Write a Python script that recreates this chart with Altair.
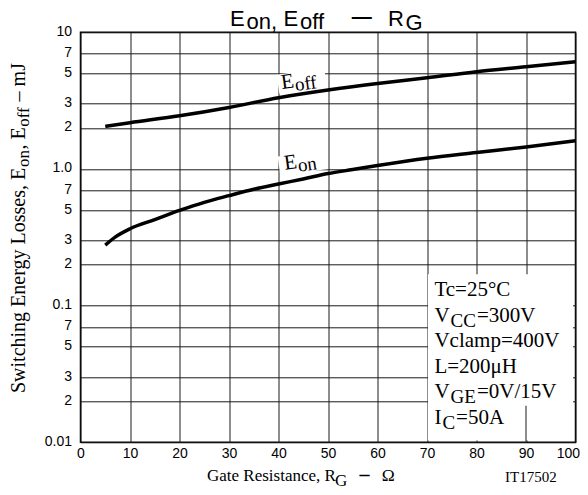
import json
import altair as alt
import pandas as pd

# ---------------- data ----------------
rg_eoff = [5, 10, 20, 30, 40, 50, 60, 70, 80, 90, 100]
eoff_mj = [2.05, 2.18, 2.45, 2.82, 3.32, 3.78, 4.22, 4.65, 5.15, 5.6, 6.1]

rg_eon = [5, 7, 10, 15, 20, 25, 30, 35, 40, 45, 50, 55, 60, 70, 80, 90, 100]
eon_mj = [0.277, 0.317, 0.365, 0.426, 0.497, 0.57, 0.638, 0.71, 0.776, 0.845,
          0.925, 0.99, 1.06, 1.2, 1.32, 1.45, 1.61]

x_ticks = [0, 10, 20, 30, 40, 50, 60, 70, 80, 90, 100]
y_tick_values = [0.01, 0.02, 0.03, 0.05, 0.07, 0.1, 0.2, 0.3, 0.5, 0.7,
                 1, 2, 3, 5, 7, 10]
y_tick_labels = ["0.01", "2", "3", "5", "7", "0.1", "2", "3", "5", "7",
                 "1.0", "2", "3", "5", "7", "10"]

cond_lines = [
    [("Tc=25°C", False)],
    [("V", False), ("CC", True), ("=300V", False)],
    [("Vclamp=400V", False)],
    [("L=200μH", False)],
    [("V", False), ("GE", True), ("=0V/15V", False)],
    [("I", False), ("C", True), ("=50A", False)],
]

# ---------------- helpers ----------------
TIMES = {'S': 556, 'w': 722, 'i': 278, 't': 278, 'c': 444, 'h': 500, 'n': 500,
         'g': 500, ' ': 250, 'E': 611, 'e': 444, 'r': 333, 'y': 500, 'L': 611,
         'o': 500, 's': 389, ',': 250, 'f': 333, 'm': 778, 'J': 389, '–': 500,
         'V': 722, 'C': 667, 'G': 722, 'I': 333, '=': 564, 'T': 611, 'A': 722}


def tw(text, size):
    return sum(TIMES.get(ch, 500) for ch in text) * size / 1000.0


SERIF = "Liberation Serif"
SANS = "Liberation Sans"

xaxis = alt.Axis(values=x_ticks, grid=True, ticks=False, domain=False,
                 labelFont=SANS, labelFontSize=14, labelColor="black",
                 labelPadding=4, labelFlush=True, labelFlushOffset=4, title=None,
                 gridColor="#1a1a1a", gridWidth=1, labelOverlap=False)
yaxis = alt.Axis(values=y_tick_values,
                 labelExpr=f"{json.dumps(y_tick_labels)}[indexof({json.dumps(y_tick_values)}, datum.value)]",
                 grid=True, ticks=False, domain=False,
                 labelFont=SANS, labelFontSize=14, labelColor="black",
                 labelPadding=9, labelOffset=-1, title=None,
                 gridColor="#1a1a1a", gridWidth=1, labelOverlap=False)
xs = alt.Scale(domain=[0, 100], nice=False, zero=False)
ys = alt.Scale(type="log", domain=[0.01, 10], nice=False)
X = alt.X("x:Q", scale=xs, axis=xaxis)
Y = alt.Y("y:Q", scale=ys, axis=yaxis)


def pieces(parts, anchor, size, sub_size, sub_dy, font, angle=None, base_dy=0, gap=0.0):
    out = []
    dx = 0.0
    for text, is_sub in parts:
        s = sub_size if is_sub else size
        while text.startswith(" "):
            dx += tw(" ", s)
            text = text[1:]
        props = dict(text=text, font=font, fontSize=s, align="left",
                     baseline="alphabetic", dx=dx,
                     dy=base_dy + (sub_dy if is_sub else 0), color="black")
        if angle is not None:
            props["angle"] = angle
        if anchor[0] == "data":
            ch = alt.Chart(pd.DataFrame({"x": [anchor[1]], "y": [anchor[2]]})).mark_text(**props).encode(x=X, y=Y)
        else:
            ch = alt.Chart(pd.DataFrame({"k": [0]})).mark_text(**props).encode(
                x=alt.value(anchor[1]), y=alt.value(anchor[2]))
        out.append(ch)
        dx += tw(text, s) + gap
    return out


def ptext(text, px, py, size, font, dy=0, weight="normal"):
    return alt.Chart(pd.DataFrame({"k": [0]})).mark_text(
        text=text, font=font, fontSize=size, align="left", baseline="alphabetic",
        dy=dy, color="black", fontWeight=weight).encode(x=alt.value(px), y=alt.value(py))


layers = []

# white condition box
box = alt.Chart(pd.DataFrame({"x": [70.2], "x2": [99.5], "y": [0.0103], "y2": [0.17]})).mark_rect(
    color="white", opacity=1).encode(x=X, x2="x2", y=Y, y2="y2")
layers.append(box)
stub = alt.Chart(pd.DataFrame({"x": [90], "y": [0.0101], "y2": [0.0185]})).mark_rule(
    color="#1a1a1a", strokeWidth=1).encode(x=X, y=Y, y2="y2")
layers.append(stub)

# label backgrounds
lbl_bg = alt.Chart(pd.DataFrame({"x": [44.7, 44.9], "y": [4.41, 1.11]})).mark_point(
    shape="M-1,-0.4L1,-0.4L1,0.4L-1,0.4Z", size=2304, filled=True, color="white",
    opacity=1, strokeWidth=0, angle=352).encode(x=X, y=Y)
layers.append(lbl_bg)

# curves
curves = pd.concat([
    pd.DataFrame({"x": rg_eoff, "y": eoff_mj, "s": "Eoff"}),
    pd.DataFrame({"x": rg_eon, "y": eon_mj, "s": "Eon"}),
])
lines = alt.Chart(curves).mark_line(color="black", strokeWidth=3.5, interpolate="monotone").encode(
    x=X, y=Y, detail="s:N")
layers.append(lines)

# curve labels
layers += pieces([("E", False), ("off", True)], ("data", 40.7, 3.85), 21, 19, 4, SERIF, angle=352, gap=0.5)
layers += pieces([("E", False), ("on", True)], ("data", 41.3, 0.988), 21, 19, 4, SERIF, angle=352, gap=0.5)

# conditions text
for i, parts in enumerate(cond_lines):
    layers += pieces(parts, ("data", 71.5, 0.1175), 21, 19, 5, SERIF, base_dy=i * 25.5, gap=1.0)

# title (pixel positions relative to plot origin)
layers.append(ptext("E", 149.5, -6.8, 22, SANS))
layers.append(ptext("on,", 166.0, -3.6, 22, SANS))
layers.append(ptext("E", 203.0, -6.8, 22, SANS))
layers.append(ptext("off", 219.5, -3.6, 22, SANS))
layers.append(ptext("—", 271.2, -9.5, 20, SANS, weight="bold"))
layers.append(ptext("R", 307.5, -6.8, 22, SANS))
layers.append(ptext("G", 325.0, -2.2, 22, SANS))

# x-axis title
layers.append(ptext("Gate Resistance, R", 126.5, 448.4, 17, SERIF))
layers.append(ptext("G", 254.5, 453.4, 17, SERIF))
layers.append(ptext("–", 279.0, 448.4, 20, SERIF, weight="bold"))
layers.append(ptext("Ω", 301.2, 448.4, 17.5, SERIF))
layers.append(ptext("IT17502", 424.5, 449.4, 15, SERIF))

# y-axis title (rotated)
layers += pieces([("Switching Energy Losses, E", False), ("on", True), (", E", False),
                  ("off", True), (" – mJ", False)],
                 ("px", -55.5, 360.7), 20, 17, 4, SERIF, angle=270, gap=0.5)

chart = alt.layer(*layers).properties(
    width=495, height=410,
    padding={"left": 72.5, "top": 24.3, "right": 4.5, "bottom": 44.7},
    autosize=alt.AutoSizeParams(type="none"),
    background="white",
).configure_view(stroke="black", strokeWidth=1.5)

chart.save("out.html", embed_options={"renderer": "svg", "actions": False})
